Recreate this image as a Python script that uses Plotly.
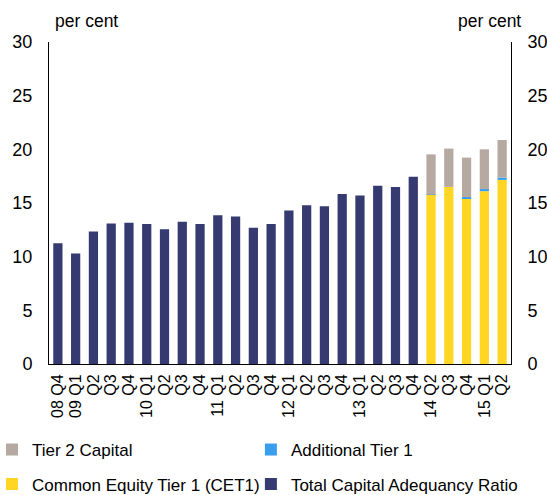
import plotly.graph_objects as go

categories = ["08 Q4", "09 Q1", "Q2", "Q3", "Q4", "10 Q1", "Q2", "Q3", "Q4",
              "11 Q1", "Q2", "Q3", "Q4", "12 Q1", "Q2", "Q3", "Q4",
              "13 Q1", "Q2", "Q3", "Q4", "14 Q2", "Q3", "Q4", "15 Q1", "Q2"]
# unique keys so repeated quarter labels stay separate categories
cat_keys = [f"{i}" for i in range(len(categories))]

total_car = [11.25, 10.3, 12.35, 13.1, 13.15, 13.05, 12.55, 13.25, 13.05,
             13.85, 13.75, 12.7, 13.05, 14.3, 14.8, 14.7, 15.85, 15.7,
             16.6, 16.5, 17.45, None, None, None, None, None]
cet1 = [None] * 21 + [15.75, 16.5, 15.4, 16.1, 17.15]
at1 = [None] * 21 + [0.03, -0.2, 0.15, 0.2, 0.22]
tier2 = [None] * 21 + [3.75, 3.57, 3.68, 3.7, 3.5]

ticks_y = [0, 5, 10, 15, 20, 25, 30]

NAVY = "#353A70"
YELLOW = "#FFD624"
BLUE = "#3A9EEF"
TAN = "#B5A9A1"

FONT = "Liberation Sans, Arial, sans-serif"

fig = go.Figure()
fig.add_trace(go.Bar(x=cat_keys, y=total_car, name="Total Capital Adequancy Ratio",
                     marker=dict(color=NAVY, line=dict(width=0)), legend="legend4"))
fig.add_trace(go.Bar(x=cat_keys, y=cet1, name="Common Equity Tier 1 (CET1)",
                     marker=dict(color=YELLOW, line=dict(width=0)), legend="legend3"))
fig.add_trace(go.Bar(x=cat_keys, y=at1, name="Additional Tier 1",
                     marker=dict(color=BLUE, line=dict(width=0)), legend="legend2"))
fig.add_trace(go.Bar(x=cat_keys, y=tier2, name="Tier 2 Capital",
                     marker=dict(color=TAN, line=dict(width=0)), legend="legend"))
# invisible trace so the right axis renders
fig.add_trace(go.Scatter(x=[cat_keys[0]], y=[0], yaxis="y2", mode="markers",
                         marker=dict(opacity=0), showlegend=False, hoverinfo="skip"))

leg_common = dict(orientation="h", xanchor="left", yanchor="middle",
                  font=dict(size=17), bgcolor="rgba(0,0,0,0)", itemclick=False,
                  borderwidth=0)
COL1, COL2 = -0.1234, 0.437
ROW1, ROW2 = -0.267, -0.374

fig.update_layout(
    width=547, height=495,
    margin=dict(l=49, r=36, t=42, b=131, autoexpand=False),
    paper_bgcolor="white", plot_bgcolor="white",
    font=dict(family=FONT, size=17, color="black"),
    barmode="relative", bargap=0.48,
    showlegend=True,
    legend=dict(x=COL1, y=ROW1, **leg_common),
    legend2=dict(x=COL2, y=ROW1, **leg_common),
    legend3=dict(x=COL1, y=ROW2, **leg_common),
    legend4=dict(x=COL2, y=ROW2, **leg_common),
    xaxis=dict(type="category", tickmode="array", tickvals=cat_keys, ticktext=categories,
               tickangle=-90, showline=True, linecolor="black", linewidth=1,
               showgrid=False, ticks="", tickfont=dict(size=16), ticklabelstandoff=3,
               range=[-0.5, len(categories) - 0.5], zeroline=False),
    yaxis=dict(range=[0, 30], tickvals=ticks_y, showline=True, linecolor="black",
               linewidth=1, showgrid=False, ticks="", zeroline=False,
               tickfont=dict(size=18), ticklabelstandoff=12),
    yaxis2=dict(range=[0, 30], tickvals=ticks_y, overlaying="y", side="right",
                showline=True, linecolor="black", linewidth=1, showgrid=False,
                ticks="", zeroline=False, tickfont=dict(size=18), ticklabelstandoff=12),
    annotations=[
        dict(text="per cent", xref="paper", yref="paper", x=0.0, y=1.0,
             xanchor="left", yanchor="bottom", yshift=9, xshift=4, showarrow=False,
             font=dict(size=17.5)),
        dict(text="per cent", xref="paper", yref="paper", x=1.0, y=1.0,
             xanchor="right", yanchor="bottom", yshift=9, xshift=12, showarrow=False,
             font=dict(size=17.5)),
    ],
)

fig.write_html("out.html", config={"displayModeBar": False},
               post_script="document.body.style.margin='0';document.body.style.overflow='hidden';")
